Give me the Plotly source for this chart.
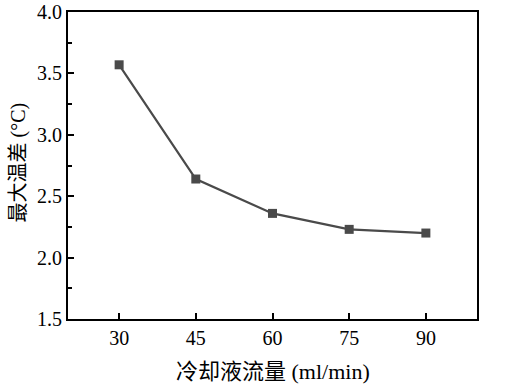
import plotly.graph_objects as go

flow = [30, 45, 60, 75, 90]
max_temp_diff = [3.57, 2.64, 2.36, 2.23, 2.20]
x_ticks = [30, 45, 60, 75, 90]
y_ticks = [1.5, 2.0, 2.5, 3.0, 3.5, 4.0]

fig = go.Figure()
fig.add_trace(go.Scatter(
    x=flow, y=max_temp_diff, mode="lines+markers",
    line=dict(color="#4a4a4a", width=2.2),
    marker=dict(symbol="square", size=9, color="#4a4a4a"),
    showlegend=False,
))

tick_font = dict(family="Liberation Serif", size=20, color="black")
xtitle_font = dict(family="Liberation Serif, Noto Sans CJK SC", size=22, color="black")
ytitle_font = dict(family="Liberation Serif, Noto Sans CJK SC", size=20, color="black")

fig.update_xaxes(
    range=[20, 100], tickvals=x_ticks, ticktext=[str(v) for v in x_ticks],
    ticks="inside", ticklen=6, tickwidth=1.5, tickcolor="black",
    showline=True, linecolor="black", linewidth=2, mirror=True,
    showgrid=False, zeroline=False, automargin=False,
    tickfont=tick_font,
)
fig.update_yaxes(
    range=[1.5, 4.0], tickvals=y_ticks, ticktext=[f"{v:.1f}" for v in y_ticks],
    ticks="inside", ticklen=6, tickwidth=1.5, tickcolor="black",
    minor=dict(ticks="inside", ticklen=4, dtick=0.25, tick0=1.5, tickcolor="black", tickwidth=1.5),
    showline=True, linecolor="black", linewidth=2, mirror=True,
    showgrid=False, zeroline=False, automargin=False,
    tickfont=tick_font,
)
fig.add_annotation(
    text="冷却液流量 (ml/min)", xref="paper", yref="paper",
    x=0.5, y=-0.172, xanchor="center", yanchor="middle",
    showarrow=False, font=xtitle_font,
)
fig.add_annotation(
    text="最大温差 (°C)", xref="paper", yref="paper",
    x=-0.122, y=0.51, xanchor="center", yanchor="middle", textangle=-90,
    showarrow=False, font=ytitle_font,
)
fig.update_layout(
    width=511, height=388,
    margin=dict(l=68, r=34, t=12, b=69, autoexpand=False),
    plot_bgcolor="white", paper_bgcolor="white",
    font=tick_font,
)
fig.write_html("out.html", config={"displayModeBar": False},
               post_script="document.body.style.margin='0';")
